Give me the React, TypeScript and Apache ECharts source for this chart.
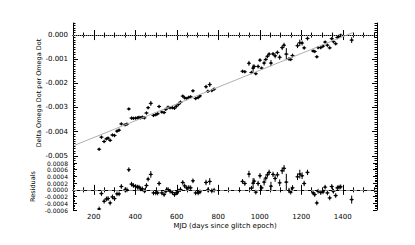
import React, { useEffect, useRef } from "react";
import * as echarts from "echarts";

const mjd = [226, 237, 250, 261, 269, 279, 290, 300, 312, 322, 333, 351, 360, 369, 382, 391, 402, 411, 418, 426, 434, 444, 454, 462, 475, 488, 499, 508, 515, 528, 539, 547, 558, 568, 579, 589, 598, 608, 618, 629, 638, 648, 658, 667, 678, 691, 703, 712, 741, 750, 759, 769, 780, 917, 928, 948, 960, 968, 973, 981, 992, 1001, 1009, 1021, 1029, 1037, 1045, 1054, 1064, 1074, 1085, 1096, 1108, 1117, 1128, 1141, 1149, 1158, 1182, 1193, 1204, 1214, 1230, 1257, 1265, 1275, 1281, 1294, 1305, 1315, 1326, 1337, 1347, 1355, 1366, 1374, 1382, 1390, 1443];

const deltaOmegaDot = [-0.00473, -0.00423, -0.00441, -0.0043, -0.00427, -0.00436, -0.00414, -0.00416, -0.00398, -0.00394, -0.00368, -0.00372, -0.00369, -0.00306, -0.00344, -0.00345, -0.00344, -0.00343, -0.00341, -0.00343, -0.0034, -0.00343, -0.00323, -0.00301, -0.00283, -0.00333, -0.0033, -0.00326, -0.00296, -0.00319, -0.00321, -0.00308, -0.00299, -0.00301, -0.00301, -0.00303, -0.00295, -0.00287, -0.00278, -0.00253, -0.0026, -0.00263, -0.00258, -0.00256, -0.00231, -0.00263, -0.00259, -0.00252, -0.00214, -0.00233, -0.00205, -0.0023, -0.00224, -0.0015, -0.00152, -0.00117, -0.00155, -0.00137, -0.0013, -0.0016, -0.0013, -0.00104, -0.00137, -0.00116, -0.00101, -0.00088, -0.00079, -0.00116, -0.00078, -0.00086, -0.00072, -0.00092, -0.00052, -0.00042, -0.00079, -0.00099, -0.00101, -0.00085, -0.00044, -0.00032, -0.00033, -0.00053, -0.00014, -0.00066, -0.00068, -0.0009, -0.00052, -0.00052, -0.00046, -0.00029, -0.00042, -0.00053, -0.00015, -0.00027, -0.00036, -0.0001, -0.00005, -0.00001, -0.00021];

const residuals = [-0.00057, -0.00011, -0.00034, -0.00027, -0.00026, -0.00039, -0.00021, -0.00026, -0.00012, -0.00012, 0.0001, 0.0, 0.0, 0.0006, 0.00017, 0.00013, 0.0001, 0.00008, 0.00008, 0.00003, 0.00003, -0.00003, 0.00013, 0.00032, 0.00046, -0.00009, -0.00009, -0.00009, 0.00019, -0.00009, -0.00014, -0.00004, 0.00001, -0.00004, -0.00008, -0.00014, -0.00009, -0.00004, 0.00001, 0.00022, 0.00012, 0.00006, 0.00007, 0.00006, 0.00027, -0.00009, -0.00009, -0.00006, 0.00022, 0.0, 0.00025, -0.00003, -0.00001, 0.00025, 0.00019, 0.00047, 0.00005, 0.0002, 0.00026, -0.00007, 0.00019, 0.00042, 0.00006, 0.00023, 0.00035, 0.00045, 0.00052, 0.00011, 0.00046, 0.00034, 0.00045, 0.00021, 0.00057, 0.00064, 0.00023, -0.00002, -0.00007, 0.00006, 0.00039, 0.00047, 0.00042, 0.00019, 0.00052, -0.00009, -0.00014, -0.00039, -0.00004, -0.00008, -0.00006, 0.00008, -0.00009, -0.00024, 0.0001, -0.00004, -0.00017, 0.00006, 0.00008, 0.00009, -0.00029];

const errors = [0.00007, 0.00007, 0.00007, 0.00007, 0.00007, 0.00007, 0.00007, 0.00007, 0.00007, 0.00007, 0.00007, 0.00007, 0.00007, 0.00007, 0.00007, 0.00007, 0.00007, 0.00007, 0.00007, 0.00007, 0.00007, 0.00007, 0.00007, 0.00007, 0.0001, 0.00007, 0.00007, 0.00007, 0.00007, 0.00007, 0.00007, 0.00007, 0.00007, 0.00007, 0.00007, 0.00007, 0.00007, 0.00007, 0.00007, 0.00007, 0.00007, 0.00007, 0.00007, 0.00007, 0.00007, 0.00007, 0.00007, 0.00007, 0.00008, 0.00007, 0.0001, 0.00007, 0.00007, 0.00007, 0.00007, 0.0001, 0.00007, 0.00015, 0.00008, 0.00007, 0.00008, 0.00008, 0.00007, 0.0001, 0.00008, 0.00008, 0.00008, 0.00013, 0.00008, 0.0001, 0.00008, 0.0001, 0.0001, 0.0001, 0.00025, 0.00008, 0.00007, 0.00008, 0.0001, 0.00013, 0.0001, 0.00008, 0.00008, 0.00007, 0.00007, 0.00007, 0.00007, 0.00007, 0.00007, 0.00007, 0.00007, 0.00007, 0.00007, 0.00007, 0.00007, 0.00007, 0.00007, 0.00007, 0.00012];

const fitMjd = [104, 1448];
const fitValue = [-0.00458, 0.0001];

const xMajorTicks = [200, 400, 600, 800, 1000, 1200, 1400];
const topMajorTicks = [-0.005, -0.004, -0.003, -0.002, -0.001, 0.0];

const FONT = "DejaVu Sans";
const X_MIN = 100;
const X_MAX = 1565;
const TOP_MIN = -0.0053;
const TOP_MAX = 0.0005;
const BOT_MIN = -0.0006;
const BOT_MAX = 0.0008;

function renderErr(params: any, api: any) {
  const x = api.value(0);
  const y = api.value(1);
  const e = api.value(2);
  const c = api.coord([x, y]);
  const t = api.coord([x, y + e]);
  const b = api.coord([x, y - e]);
  return {
    type: "group",
    children: [
      { type: "line", shape: { x1: c[0], y1: t[1], x2: c[0], y2: b[1] }, style: { stroke: "#000", lineWidth: 1 } },
      { type: "line", shape: { x1: c[0] - 2, y1: c[1], x2: c[0] + 2, y2: c[1] }, style: { stroke: "#000", lineWidth: 1 } },
      { type: "rect", shape: { x: c[0] - 1, y: c[1] - 1, width: 2, height: 2 }, style: { fill: "#000" } },
    ],
  };
}

function xAxes(grid: number, withLabels: boolean) {
  const line = { show: true, lineStyle: { color: "#000", width: 1 } };
  const base = { type: "value", gridIndex: grid, min: X_MIN, max: X_MAX, splitLine: { show: false } };
  const major = (pos: string, labels: boolean) => ({
    ...base,
    position: pos,
    axisLine: line,
    axisTick: { show: true, inside: true, length: 5, customValues: xMajorTicks, lineStyle: { color: "#000" } },
    axisLabel: labels
      ? {
          show: true,
          customValues: xMajorTicks,
          formatter: (v: number) => String(Math.round(v)),
          fontFamily: FONT,
          fontSize: 7,
          color: "#000",
          margin: 3,
        }
      : { show: false },
    ...(labels
      ? {
          name: "MJD (days since glitch epoch)",
          nameLocation: "middle",
          nameGap: 12,
          nameMoveOverlap: false,
          nameTextStyle: { fontFamily: FONT, fontSize: 7, color: "#000" },
        }
      : {}),
  });
  const minor = (pos: string) => ({
    ...base,
    position: pos,
    interval: 50,
    axisLine: { show: false },
    axisTick: { show: true, inside: true, length: 2.5, lineStyle: { color: "#000" } },
    axisLabel: { show: false },
  });
  return [major("bottom", withLabels), minor("bottom"), major("top", false), minor("top")];
}

function yAxesTop() {
  const line = { show: true, lineStyle: { color: "#000", width: 1 } };
  const base = { type: "value", gridIndex: 0, min: TOP_MIN, max: TOP_MAX, splitLine: { show: false } };
  const major = (pos: string, labels: boolean) => ({
    ...base,
    position: pos,
    axisLine: line,
    axisTick: { show: true, inside: true, length: 5, customValues: topMajorTicks, lineStyle: { color: "#000" } },
    axisLabel: labels
      ? {
          show: true,
          customValues: topMajorTicks,
          formatter: (v: number) => v.toFixed(3),
          fontFamily: FONT,
          fontSize: 7,
          color: "#000",
          margin: 5,
        }
      : { show: false },
    ...(labels
      ? {
          name: "Delta Omega Dot per Omega Dot",
          nameLocation: "middle",
          nameGap: 31,
          nameMoveOverlap: false,
          nameTextStyle: { fontFamily: FONT, fontSize: 6.5, color: "#000" },
        }
      : {}),
  });
  const minor = (pos: string) => ({
    ...base,
    position: pos,
    interval: 0.0001,
    axisLine: { show: false },
    axisTick: { show: true, inside: true, length: 2.5, lineStyle: { color: "#000" } },
    axisLabel: { show: false },
  });
  return [major("left", true), minor("left"), major("right", false), minor("right")];
}

function yAxesBottom() {
  const line = { show: true, lineStyle: { color: "#000", width: 1 } };
  const base = { type: "value", gridIndex: 1, min: BOT_MIN, max: BOT_MAX, splitLine: { show: false } };
  const major = (pos: string, labels: boolean) => ({
    ...base,
    position: pos,
    interval: 0.0002,
    axisLine: line,
    axisTick: { show: true, inside: true, length: 4, lineStyle: { color: "#000" } },
    axisLabel: labels
      ? {
          show: true,
          formatter: (v: number) => v.toFixed(4),
          fontFamily: FONT,
          fontSize: 6,
          color: "#000",
          margin: 5,
        }
      : { show: false },
    ...(labels
      ? {
          name: "Residuals",
          nameLocation: "middle",
          nameGap: 37,
          nameMoveOverlap: false,
          nameTextStyle: { fontFamily: FONT, fontSize: 6.5, color: "#000" },
        }
      : {}),
  });
  const minor = (pos: string) => ({
    ...base,
    position: pos,
    interval: 0.00005,
    axisLine: { show: false },
    axisTick: { show: true, inside: true, length: 2, lineStyle: { color: "#000" } },
    axisLabel: { show: false },
  });
  return [major("left", true), minor("left"), major("right", false), minor("right")];
}

export default function App() {
  const ref = useRef<HTMLDivElement>(null);
  useEffect(() => {
    if (!ref.current) return;
    const chart = echarts.init(ref.current, undefined, { renderer: "svg" });
    const topData = mjd.map((m, i) => [m, deltaOmegaDot[i], errors[i]]);
    const botData = mjd.map((m, i) => [m, residuals[i], errors[i]]);
    const fitData = fitMjd.map((m, i) => [m, fitValue[i]]);
    chart.setOption({
      animation: false,
      backgroundColor: "#fff",
      textStyle: { fontFamily: FONT },
      grid: [
        { left: 73, top: 23, width: 304, height: 140 },
        { left: 73, top: 163, width: 304, height: 47 },
      ],
      xAxis: [...xAxes(0, false), ...xAxes(1, true)],
      yAxis: [...yAxesTop(), ...yAxesBottom()],
      series: [
        {
          type: "line",
          xAxisIndex: 0,
          yAxisIndex: 0,
          data: fitData,
          symbol: "none",
          lineStyle: { color: "#b0b0b0", width: 1 },
          markLine: {
            silent: true,
            symbol: "none",
            label: { show: false },
            lineStyle: { color: "#888", type: [1, 1], width: 1 },
            data: [{ yAxis: 0 }],
          },
        },
        {
          type: "custom",
          xAxisIndex: 0,
          yAxisIndex: 0,
          renderItem: renderErr,
          encode: { x: 0, y: 1 },
          data: topData,
          clip: true,
        },
        {
          type: "custom",
          xAxisIndex: 4,
          yAxisIndex: 4,
          renderItem: renderErr,
          encode: { x: 0, y: 1 },
          data: botData,
          clip: true,
          markLine: {
            silent: true,
            symbol: "none",
            label: { show: false },
            lineStyle: { color: "#888", type: [4, 3], width: 1 },
            data: [{ yAxis: 0 }],
          },
        },
      ],
    });
    return () => chart.dispose();
  }, []);
  return (
    <div
      ref={ref}
      style={{ position: "fixed", left: 0, top: 0, width: 415, height: 245, background: "#fff" }}
    />
  );
}
